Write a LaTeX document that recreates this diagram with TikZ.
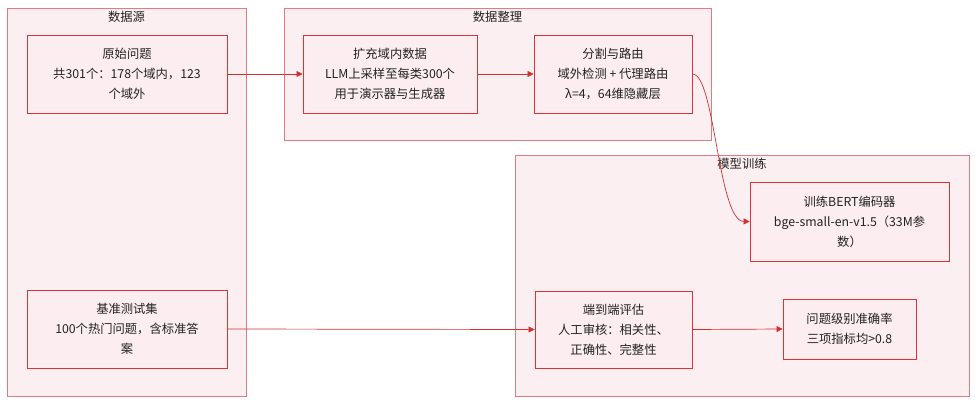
\documentclass[tikz,border=0pt]{standalone}
\usepackage{fontspec}
\setmainfont{Noto Sans CJK SC}
\usetikzlibrary{arrows.meta}
\definecolor{clfill}{HTML}{FCEFF1}
\definecolor{cldraw}{HTML}{E27C80}
\definecolor{ndfill}{HTML}{FCEEF0}
\definecolor{nddraw}{HTML}{D8343A}
\definecolor{edge}{HTML}{D32F2F}
\definecolor{txt}{HTML}{222222}
\tikzset{
  cluster/.style={draw=cldraw, fill=clfill, line width=0.9pt},
  box/.style={draw=nddraw, fill=ndfill, line width=0.9pt, align=center, inner sep=0pt, text=txt,
     font=\fontsize{12.3}{20}\selectfont},
  cltitle/.style={text=txt, font=\fontsize{12.3}{15}\selectfont},
  conn/.style={draw=edge, line width=0.7pt, -{Triangle[length=6pt,width=6pt]}}
}
\begin{document}
\begin{tikzpicture}[x=1pt,y=-1pt]
\useasboundingbox (0,0) rectangle (976,404);
% clusters
\draw[cluster] (7,8) rectangle (246,396);
\node[cltitle] (t1) at (126.5,17) {数据源};
\draw[cluster] (284,8) rectangle (711,140);
\node[cltitle] (t2) at (497.5,17) {数据整理};
\draw[cluster] (515,155) rectangle (969,396);
\node[cltitle] (t3) at (742,164) {模型训练};
% nodes
\node[box, minimum width=200pt, minimum height=78pt] (raw) at (127,74) {原始问题\\共301个：178个域内，123\\个域外};
\node[box, minimum width=200pt, minimum height=78pt] (bench) at (127,329) {基准测试集\\100个热门问题，含标准答\\案};
\node[box, minimum width=174pt, minimum height=78pt] (aug) at (390,74) {扩充域内数据\\LLM上采样至每类300个\\用于演示器与生成器};
\node[box, minimum width=158pt, minimum height=78pt] (split) at (613,74) {分割与路由\\域外检测 + 代理路由\\λ=4，64维隐藏层};
\node[box, minimum width=199pt, minimum height=79pt] (bert) at (849.5,221.5) {训练BERT编码器\\bge-small-en-v1.5（33M参\\数）};
\node[box, minimum width=157pt, minimum height=77pt] (e2e) at (613.5,329.5) {端到端评估\\人工审核：相关性、\\正确性、完整性};
\node[box, minimum width=133pt, minimum height=60pt] (acc) at (849.5,329) {问题级别准确率\\三项指标均>0.8};
% edges
\draw[conn] (raw.east) -- (aug.west);
\draw[conn] (aug.east) -- (split.west);
\draw[conn] (split.east) .. controls (715,74) and (718,221) .. (bert.west);
\draw[conn] (bench.east) -- (e2e.west);
\draw[conn] (e2e.east) -- (acc.west);
\end{tikzpicture}
\end{document}
